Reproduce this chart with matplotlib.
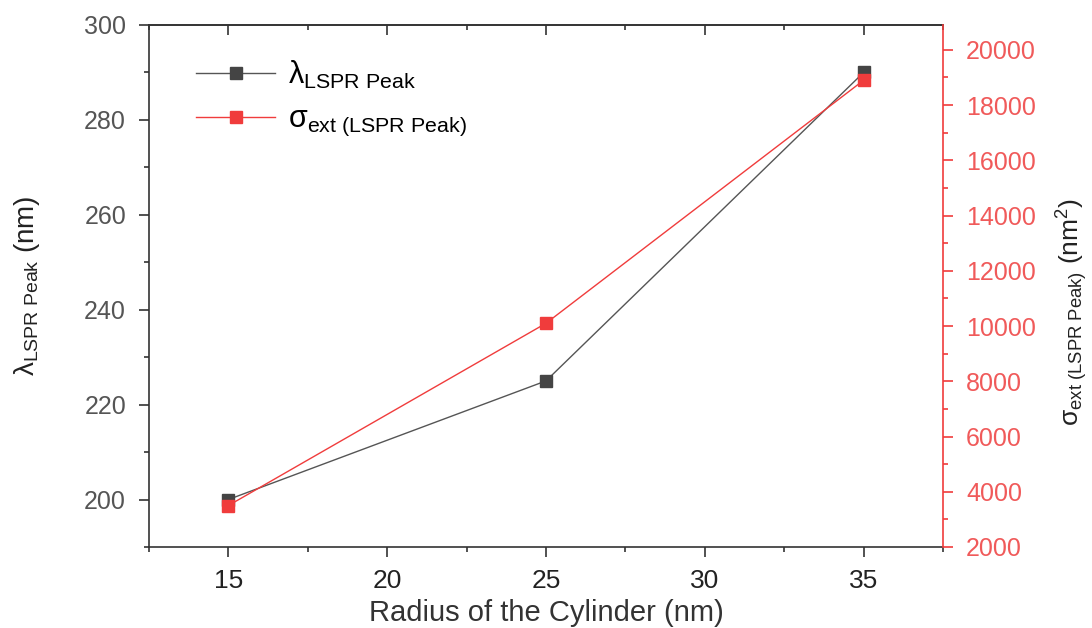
import matplotlib
matplotlib.use("Agg")
import matplotlib.pyplot as plt
from matplotlib.ticker import MultipleLocator, NullFormatter

plt.rcParams['font.family'] = ['Liberation Sans', 'DejaVu Sans']
plt.rcParams['mathtext.fontset'] = 'custom'
plt.rcParams['mathtext.rm'] = 'Liberation Sans'
plt.rcParams['mathtext.it'] = 'Liberation Sans:italic'
plt.rcParams['mathtext.bf'] = 'Liberation Sans:bold'

# data
radius = [15, 25, 35]
lspr_peak = [200, 225, 290]          # nm
sigma_ext = [3500, 10100, 18900]     # nm^2

gray = '#444444'
red = '#f03c3c'
red_txt = '#f05a5a'

fig = plt.figure(figsize=(10.92, 6.28), dpi=100)
ax = fig.add_axes([0.1364, 0.129, 0.7272, 0.8312])
ax2 = ax.twinx()

l1, = ax.plot(radius, lspr_peak, color='#555555', lw=1.0, marker='s', ms=8.5,
              mfc=gray, mec=gray, label='λ$_{\\rm LSPR\\ Peak}$')
l2, = ax2.plot(radius, sigma_ext, color=red, lw=1.0, marker='s', ms=8.5,
               mfc=red, mec=red, label='σ$_{\\rm ext\\ (LSPR\\ Peak)}$')

ax.set_xlim(12.5, 37.5)
ax.set_ylim(190, 300)
ax2.set_ylim(2000, 20900)

ax.xaxis.set_major_locator(MultipleLocator(5))
ax.xaxis.set_minor_locator(MultipleLocator(2.5))
ax.yaxis.set_major_locator(MultipleLocator(20))
ax.yaxis.set_minor_locator(MultipleLocator(10))
ax2.yaxis.set_major_locator(MultipleLocator(2000))
ax2.yaxis.set_minor_locator(MultipleLocator(1000))

for sp in ['left', 'bottom', 'top']:
    ax.spines[sp].set_color('#333333')
    ax.spines[sp].set_linewidth(1.2)
ax.spines['right'].set_visible(False)
ax2.spines['left'].set_visible(False)
ax2.spines['top'].set_visible(False)
ax2.spines['bottom'].set_visible(False)
ax2.spines['right'].set_color(red)
ax2.spines['right'].set_linewidth(1.2)

ax.tick_params(axis='x', which='major', direction='out', length=7.5, width=1.2,
               color='#333333', labelsize=19, labelcolor='#222222', pad=8)
ax.tick_params(axis='x', which='minor', direction='out', length=3.5, width=1.2,
               color='#333333')
ax.tick_params(axis='y', which='major', direction='out', length=7.5, width=1.2,
               color='#333333', labelsize=18, labelcolor='#555555', pad=9)
ax.tick_params(axis='y', which='minor', direction='out', length=3.5, width=1.2,
               color='#333333')
ax2.tick_params(axis='y', which='major', direction='out', length=7.5, width=1.2,
                color=red, labelsize=18, labelcolor=red_txt, pad=9)
ax2.tick_params(axis='y', which='minor', direction='out', length=3.5, width=1.2,
                color=red)

# inward ticks on the top edge
top = ax.secondary_xaxis('top')
top.xaxis.set_major_locator(MultipleLocator(5))
top.xaxis.set_minor_locator(MultipleLocator(2.5))
top.xaxis.set_major_formatter(NullFormatter())
top.spines['top'].set_color('#333333')
top.spines['top'].set_linewidth(1.2)
top.tick_params(which='major', direction='in', length=7.5, width=1.2, color='#333333')
top.tick_params(which='minor', direction='in', length=3.5, width=1.2, color='#333333')

ax.set_xlabel('Radius of the Cylinder (nm)', fontsize=21, color='#333333')
ax.xaxis.set_label_coords(0.5, -0.1)
ax.set_ylabel('λ$_{\\rm LSPR\\ Peak}$ (nm)', fontsize=20, color='#222222')
ax.yaxis.set_label_coords(-0.135, 0.5)
ax2.set_ylabel('σ$_{\\rm ext\\ (LSPR\\ Peak)}$ (nm$^2$)', fontsize=19,
               color='#222222')
ax2.yaxis.set_label_coords(1.14, 0.45)

ax2.legend(handles=[l1, l2], loc='upper left', bbox_to_anchor=(0.04, 0.965),
           frameon=False, fontsize=22, handlelength=2.6, handletextpad=0.4,
           labelspacing=0.45, borderpad=0)

fig.savefig('out.png', dpi=100)
